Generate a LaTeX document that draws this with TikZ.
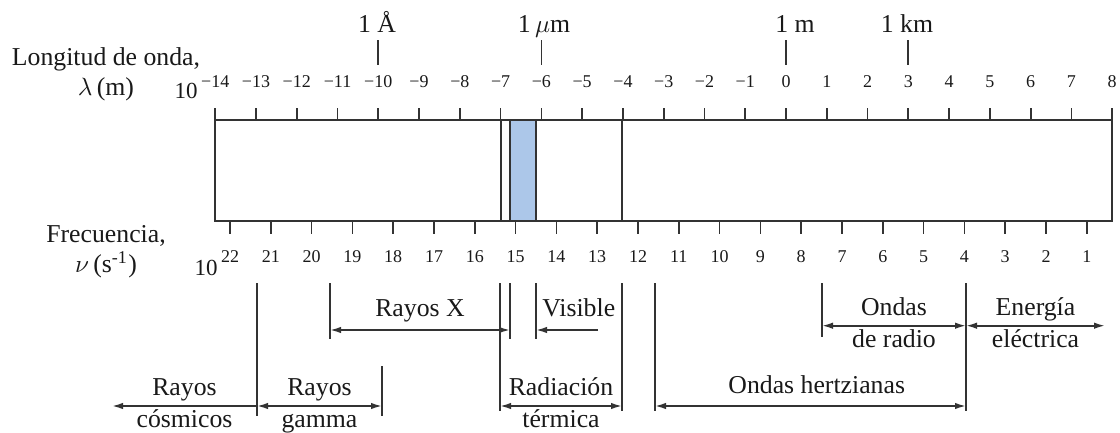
\documentclass[tikz,border=0pt]{standalone}
\usepackage{fontspec}
\setmainfont{Liberation Serif}
\usepackage{tikz}
\usetikzlibrary{arrows.meta}

\definecolor{visblue}{RGB}{172,199,233}

\begin{document}
\begin{tikzpicture}[
    x=0.4pt, y=-0.4pt,
    every node/.style={text=black!90},
    axis/.style={draw=black!80, line width=0.7pt},
    ticklabel/.style={anchor=base, inner sep=1pt, font=\fontsize{7.2}{8}\selectfont},
    lbl/.style={font=\fontsize{10.3}{12.8}\selectfont},
    ten/.style={anchor=base east, inner sep=0pt, font=\fontsize{9.2}{10}\selectfont},
    axisname/.style={align=center, font=\fontsize{10.3}{12}\selectfont},
    unitmark/.style={axis, shorten <=3.2pt, shorten >=3pt},
    line/.style={axis, -{Latex[length=4.4pt,width=2.6pt]}},
    both/.style={line, {Latex[length=4.4pt,width=2.6pt]}-{Latex[length=4.4pt,width=2.6pt]}},
    over/.style={lbl, anchor=base, yshift=5.5pt, inner sep=0pt},
    split/.style={lbl, align=center, inner sep=0pt, yshift=0.4pt}
]
\useasboundingbox (0,0) rectangle (1120,433);

\node[axisname] (wavename) at (106,74) {Longitud de onda,\\$\lambda$\,(m)};
\node[axisname] (freqname) at (106,252) {Frecuencia,\\$\nu$\,(s\textsuperscript{-1})};

% wavelength scale
\foreach \e in {-14,...,8}
  \draw[axis] ({786+40.77*\e},108) -- ({786+40.77*\e},120);
\foreach \e in {1,...,14}
  \node[ticklabel] (wlm\e) at ({786-40.77*\e},87) {−\e};
\foreach \e in {0,...,8}
  \node[ticklabel] (wl\e) at ({786+40.77*\e},87) {\e};
\node[ten, yshift=-4.4pt] (wlten) at (wlm14.base west) {10};

\node[lbl, anchor=base] (ang) at (377,32) {1 Å};
\node[lbl, anchor=base] (micron) at (544,32) {1\,$\mu$m};
\node[lbl, anchor=base] (meter) at (795,32) {1 m};
\node[lbl, anchor=base] (km) at (907,32) {1 km};
\draw[unitmark] (ang.base -| wlm10.north) -- (wlm10.north);
\draw[unitmark] (micron.base -| wlm6.north) -- (wlm6.north);
\draw[unitmark] (meter.base -| wl0.north) -- (wl0.north);
\draw[unitmark] (km.base -| wl3.north) -- (wl3.north);

\draw[axis] (215,120) rectangle (1112,221);
\draw[axis] (501,120) -- (501,221);
\draw[axis, fill=visblue] (510,120) rectangle (536,221);
\draw[axis] (622,120) -- (622,221);

% frequency scale
\foreach \n in {1,...,22} {
  \draw[axis] ({230+40.8*(22-\n)},221) -- ({230+40.8*(22-\n)},234);
  \node[ticklabel] (fq\n) at ({230+40.8*(22-\n)},262) {\n};
}
\node[ten, yshift=-5.2pt] (fqten) at (fq22.base west) {10};

% region limits
\foreach \name/\x/\top/\bot in {cg/257/283/416, xl/330/283/339, gr/382/366/416,
    xr/500/283/411, vr/510/283/339, vl/536/283/339, tr/622/283/411,
    hl/655/283/411, rl/822/283/337, re/966/283/411} {
  \coordinate (\name) at (\x,\top);
  \draw[axis] (\x,\top) -- (\x,\bot);
}
\coordinate (lo) at (0,406);
\coordinate (hi) at (0,330);
\coordinate (hr) at (0,325.7);
\coordinate (cosend) at (112,406);
\coordinate (visend) at (598,330);
\coordinate (elend) at (1105,325.7);

\path[line] (cg |- lo) -- node[split] {\strut Rayos\\cósmicos\strut} (cosend);
\path[both] (cg |- lo) -- node[split] {\strut Rayos\\gamma\strut} (gr |- lo);
\path[both] (xl |- hi) -- node[over] {Rayos X} (vr |- hi);
\path[line] (visend) -- node[over, pos=0.31] {Visible} (vl |- hi);
\path[both] (xr |- lo) -- node[split] {\strut Radiación\\térmica\strut} (tr |- lo);
\path[both] (hl |- lo) -- node[over, pos=0.52, yshift=-0.3pt] {Ondas hertzianas} (re |- lo);
\path[both] (rl |- hr) -- node[split] {\strut Ondas\\de radio\strut} (re |- hr);
\path[both] (re |- hr) -- node[split] {\strut Energía\\eléctrica\strut} (elend);

\end{tikzpicture}
\end{document}
